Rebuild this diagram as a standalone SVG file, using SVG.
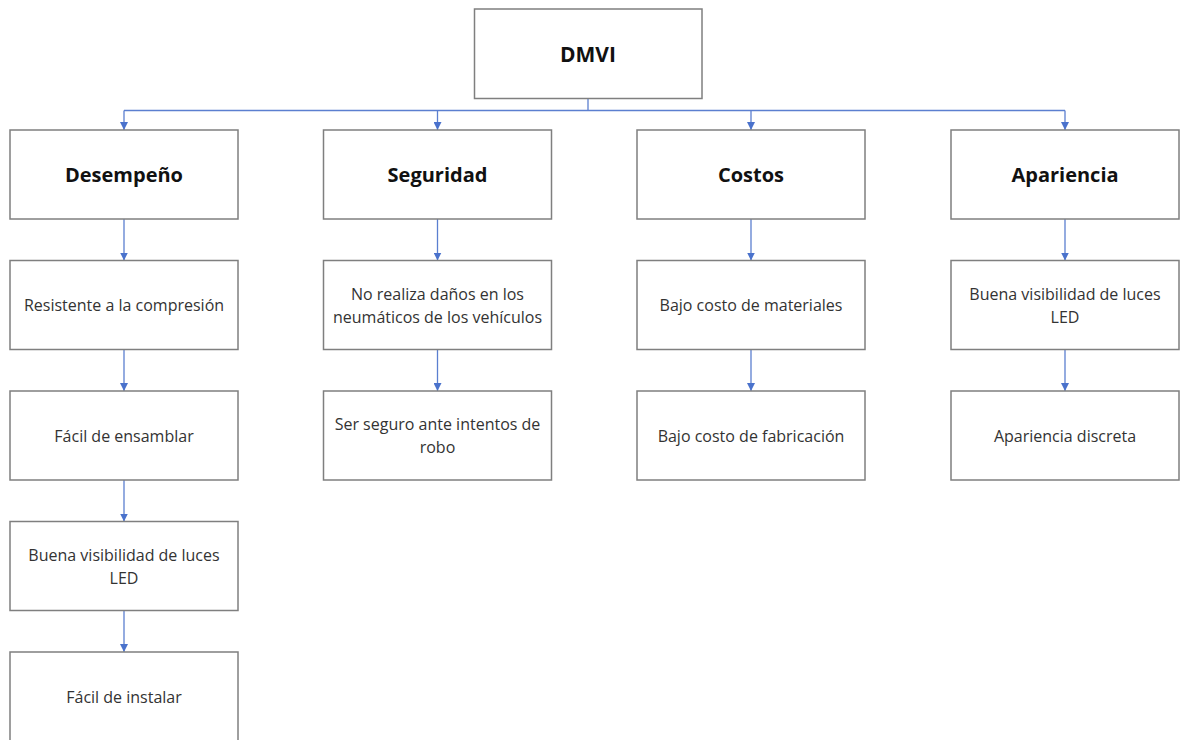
<svg xmlns="http://www.w3.org/2000/svg" width="1182" height="740" viewBox="0 0 1182 740">
<style>
.box{fill:#fff;stroke:#7f7f7f;stroke-width:1.5}
.t{font-family:"Open Sans","Liberation Sans",sans-serif;font-size:16px;fill:#333;text-anchor:middle;dominant-baseline:central}
.h{font-family:"Open Sans","Liberation Sans",sans-serif;font-size:20px;font-weight:bold;fill:#111;text-anchor:middle;dominant-baseline:central}
.c{fill:none;stroke:#5b7fd0;stroke-width:1.3}
</style>
<defs>
<marker id="a" viewBox="0 0 10 10" refX="10" refY="5" markerWidth="8" markerHeight="8" markerUnits="userSpaceOnUse" orient="auto">
<path d="M0,0 L10,5 L0,10 z" fill="#4a72cc"/>
</marker>
</defs>
<rect width="1182" height="740" fill="#fff"/>
<g id="connectors">
<path class="c" d="M588,99 V110.5"/>
<path class="c" d="M124,110.5 H1065"/>
<path class="c" d="M124,110.5 V130" marker-end="url(#a)"/>
<path class="c" d="M437.5,110.5 V130" marker-end="url(#a)"/>
<path class="c" d="M751,110.5 V130" marker-end="url(#a)"/>
<path class="c" d="M1065,110.5 V130" marker-end="url(#a)"/>
<path class="c" d="M124,219 V260.5" marker-end="url(#a)"/>
<path class="c" d="M124,349.5 V391" marker-end="url(#a)"/>
<path class="c" d="M124,480 V521.5" marker-end="url(#a)"/>
<path class="c" d="M124,610.5 V652" marker-end="url(#a)"/>
<path class="c" d="M437.5,219 V260.5" marker-end="url(#a)"/>
<path class="c" d="M437.5,349.5 V391" marker-end="url(#a)"/>
<path class="c" d="M751,219 V260.5" marker-end="url(#a)"/>
<path class="c" d="M751,349.5 V391" marker-end="url(#a)"/>
<path class="c" d="M1065,219 V260.5" marker-end="url(#a)"/>
<path class="c" d="M1065,349.5 V391" marker-end="url(#a)"/>
</g>
<g id="dmvi"><rect class="box" x="474.5" y="9" width="227.5" height="89.5"/><text class="h" x="588" y="54" style="font-size:21px">DMVI</text></g>
<g id="desempeno"><rect class="box" x="10" y="130" width="228" height="89"/><text class="h" x="124" y="174">Desempeño</text></g>
<g id="seguridad"><rect class="box" x="323.5" y="130" width="228" height="89"/><text class="h" x="437.5" y="174">Seguridad</text></g>
<g id="costos"><rect class="box" x="637" y="130" width="228" height="89"/><text class="h" x="751" y="174">Costos</text></g>
<g id="apariencia"><rect class="box" x="951" y="130" width="228" height="89"/><text class="h" x="1065" y="174">Apariencia</text></g>
<g id="d1"><rect class="box" x="10" y="260.5" width="228" height="89"/><text class="t" x="124" y="305">Resistente a la compresión</text></g>
<g id="d2"><rect class="box" x="10" y="391" width="228" height="89"/><text class="t" x="124" y="435.5">Fácil de ensamblar</text></g>
<g id="d3"><rect class="box" x="10" y="521.5" width="228" height="89"/><text class="t" x="124" y="554.5">Buena visibilidad de luces</text><text class="t" x="124" y="577.5">LED</text></g>
<g id="d4"><rect class="box" x="10" y="652" width="228" height="89"/><text class="t" x="124" y="697">Fácil de instalar</text></g>
<g id="s1"><rect class="box" x="323.5" y="260.5" width="228" height="89"/><text class="t" x="437.5" y="294">No realiza daños en los</text><text class="t" x="437.5" y="317">neumáticos de los vehículos</text></g>
<g id="s2"><rect class="box" x="323.5" y="391" width="228" height="89"/><text class="t" x="437.5" y="424">Ser seguro ante intentos de</text><text class="t" x="437.5" y="447">robo</text></g>
<g id="c1"><rect class="box" x="637" y="260.5" width="228" height="89"/><text class="t" x="751" y="305">Bajo costo de materiales</text></g>
<g id="c2"><rect class="box" x="637" y="391" width="228" height="89"/><text class="t" x="751" y="435.5">Bajo costo de fabricación</text></g>
<g id="a1"><rect class="box" x="951" y="260.5" width="228" height="89"/><text class="t" x="1065" y="294">Buena visibilidad de luces</text><text class="t" x="1065" y="317">LED</text></g>
<g id="a2"><rect class="box" x="951" y="391" width="228" height="89"/><text class="t" x="1065" y="435.5">Apariencia discreta</text></g>
</svg>
